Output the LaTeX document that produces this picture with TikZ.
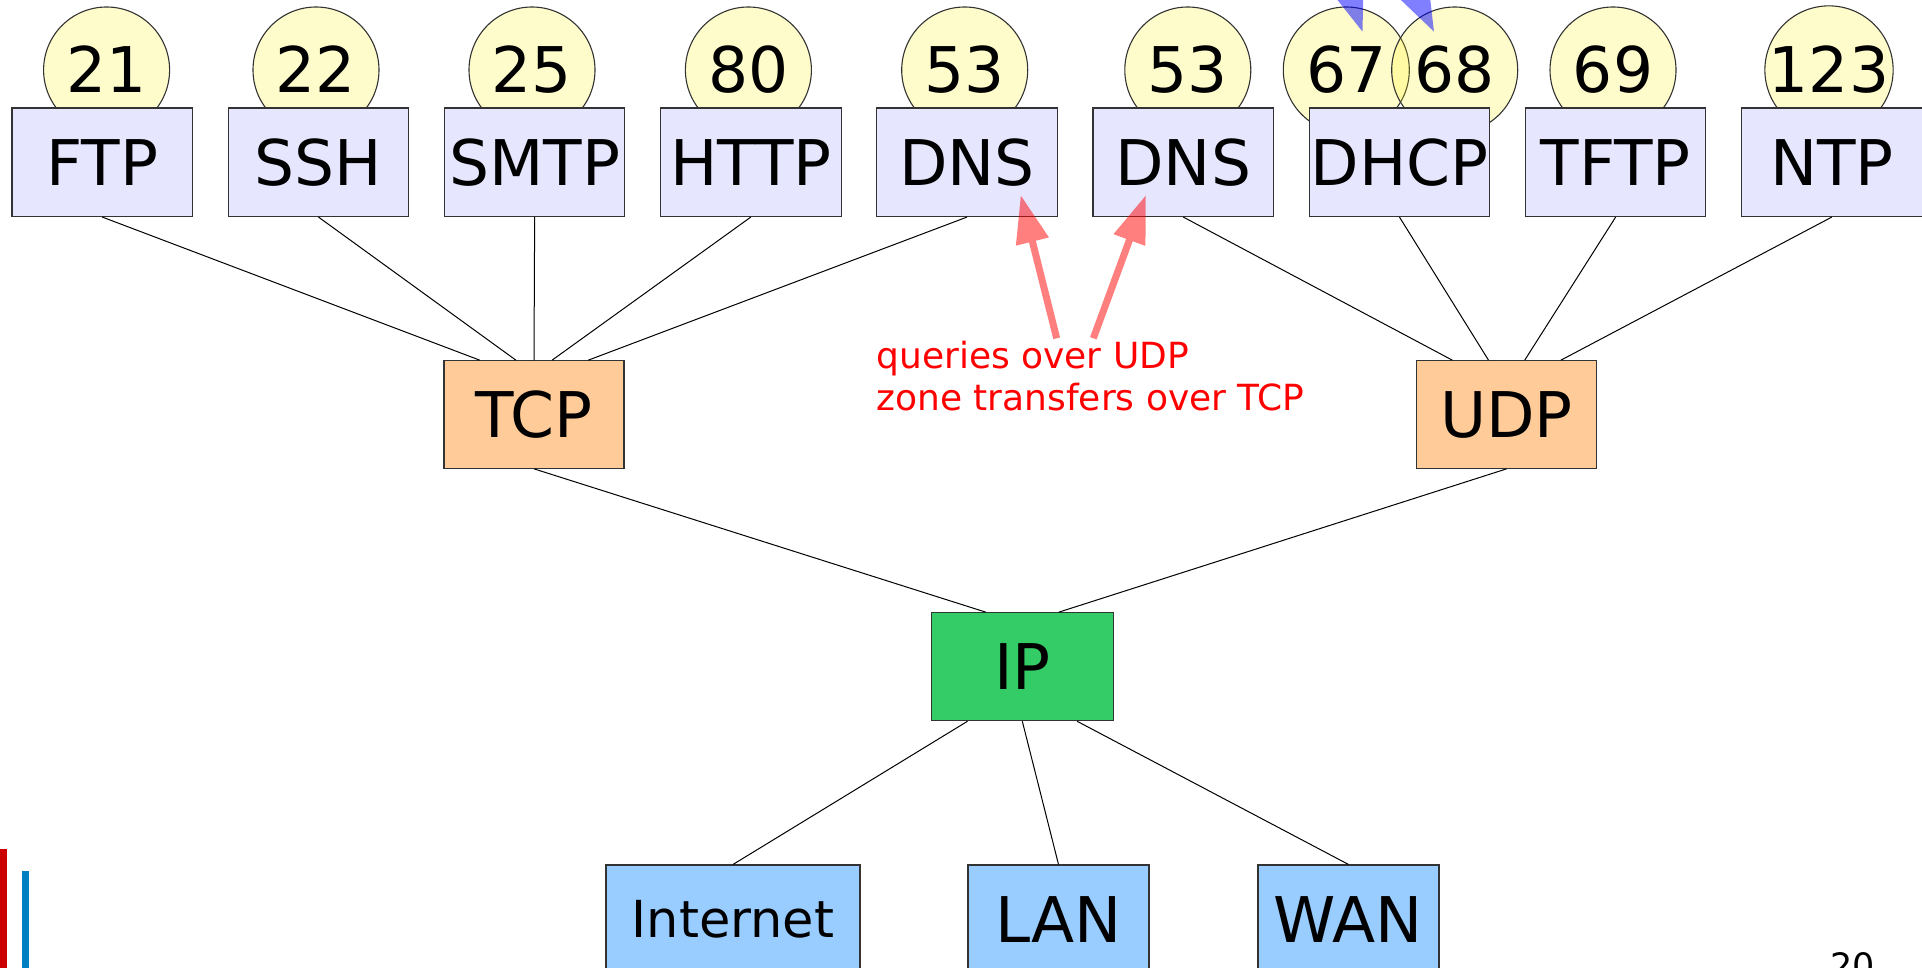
\documentclass[tikz,border=0pt]{standalone}
\usepackage{fontspec}
\setmainfont{DejaVu Sans}
\usetikzlibrary{calc,arrows.meta}
\definecolor{boxlav}{RGB}{230,230,255}
\definecolor{boxorange}{RGB}{255,204,153}
\definecolor{boxgreen}{RGB}{52,204,102}
\definecolor{boxsky}{RGB}{153,204,255}
\definecolor{barred}{RGB}{204,0,0}
\definecolor{barblue}{RGB}{0,128,192}
\begin{document}
\begin{tikzpicture}[x=0.5pt,y=-0.5pt,
  bigtext/.style={font=\fontsize{31.5}{36}\selectfont, text height=23pt, text depth=0pt},
  protobox/.style={rectangle, draw=black!80, line width=0.55pt, inner sep=0pt,
    minimum width=90.25pt, minimum height=54.25pt, bigtext, fill=boxlav},
  transbox/.style={protobox, fill=boxorange, minimum width=90pt, minimum height=53.8pt},
  ipbox/.style={protobox, fill=boxgreen, minimum width=90.75pt, minimum height=54pt},
  netbox/.style={protobox, fill=boxsky, minimum width=90.5pt, minimum height=54pt},
  portcircle/.style={circle, draw=black!80, line width=0.55pt, fill=yellow, fill opacity=0.2,
    text opacity=1, minimum size=63pt, inner sep=0pt, bigtext},
  conn/.style={draw=black, line width=0.5pt},
  fatarrow/.style={line width=3.5pt, -{Triangle[length=24pt,width=16pt]}},
  labeltext/.style={text=red, font=\fontsize{18}{21}\selectfont, inner sep=0pt, anchor=base west}
]
\useasboundingbox (0,0) rectangle (1922,968);
\clip (0,0) rectangle (1922,968);

% port circles
\node[portcircle] (p21) at (106.6,70) {21};
\node[portcircle] (p22) at (316,70) {22};
\node[portcircle] (p25) at (532,70) {25};
\node[portcircle] (p80) at (748.4,70) {80};
\node[portcircle] (p53a) at (964.7,70) {53};
\node[portcircle] (p53b) at (1187.8,70) {53};
\node[portcircle] (p67) at (1346.3,70) {67};
\node[portcircle] (p68) at (1454.7,70) {68};
\node[portcircle] (p69) at (1613,70) {69};
\node[portcircle] (p123) at (1829,70) {123};

% application boxes
\node[protobox] (ftp) at (102.25,162.25) {FTP};
\node[protobox] (ssh) at (318.45,162.25) {SSH};
\node[protobox] (smtp) at (534.65,162.25) {SMTP};
\node[protobox] (http) at (750.85,162.25) {HTTP};
\node[protobox] (dnsa) at (967.05,162.25) {DNS};
\node[protobox] (dnsb) at (1183.25,162.25) {DNS};
\node[protobox] (dhcp) at (1399.45,162.25) {DHCP};
\node[protobox] (tftp) at (1615.65,162.25) {TFTP};
\node[protobox] (ntp) at (1831.85,162.25) {NTP};

% transport
\node[transbox] (tcp) at (534,414.5) {TCP};
\node[transbox] (udp) at (1506.6,414.5) {UDP};

% network
\node[ipbox] (ip) at (1022.3,666.7) {IP};

% link
\node[netbox, minimum width=127pt, font=\fontsize{25.5}{30}\selectfont, text height=18.6pt] (inet) at (733,919) {Internet};
\node[netbox] (lan) at (1058.5,919) {LAN};
\node[netbox] (wan) at (1348.5,919) {WAN};

% connectors
\draw[conn] (ftp.south) -- ($(tcp.north west)!0.2!(tcp.north east)$);
\draw[conn] (ssh.south) -- ($(tcp.north west)!0.4!(tcp.north east)$);
\draw[conn] (smtp.south) -- (tcp.north);
\draw[conn] (http.south) -- ($(tcp.north west)!0.6!(tcp.north east)$);
\draw[conn] (dnsa.south) -- ($(tcp.north west)!0.8!(tcp.north east)$);
\draw[conn] (dnsb.south) -- ($(udp.north west)!0.2!(udp.north east)$);
\draw[conn] (dhcp.south) -- ($(udp.north west)!0.4!(udp.north east)$);
\draw[conn] (tftp.south) -- ($(udp.north west)!0.6!(udp.north east)$);
\draw[conn] (ntp.south) -- ($(udp.north west)!0.8!(udp.north east)$);
\draw[conn] (tcp.south) -- ($(ip.north west)!0.3!(ip.north east)$);
\draw[conn] (udp.south) -- ($(ip.north west)!0.7!(ip.north east)$);
\draw[conn] ($(ip.south west)!0.2!(ip.south east)$) -- (inet.north);
\draw[conn] (ip.south) -- (lan.north);
\draw[conn] ($(ip.south west)!0.8!(ip.south east)$) -- (wan.north);

% label and red arrows
\node[labeltext] (lab1) at (876,368.3) {queries over UDP};
\node[labeltext] (lab2) at (876,410) {zone transfers over TCP};
\coordinate (tailA) at (1056.7,338.3);
\coordinate (tipA) at (1020.7,195);
\coordinate (tailB) at (1093.3,338.3);
\coordinate (tipB) at (1146,195);
\begin{scope}[transparency group, opacity=0.5]
  \draw[fatarrow, draw=red] (tailA) -- (tipA);
\end{scope}
\begin{scope}[transparency group, opacity=0.5]
  \draw[fatarrow, draw=red] (tailB) -- (tipB);
\end{scope}

% blue arrows coming from above the page
\coordinate (tailC) at (1299.1,-157.3);
\coordinate (tipC) at (1362.7,32.3);
\coordinate (tailD) at (1345.3,-146.7);
\coordinate (tipD) at (1434.3,32.3);
\begin{scope}[transparency group, opacity=0.5]
  \draw[fatarrow, draw=blue] (tailC) -- (tipC);
\end{scope}
\begin{scope}[transparency group, opacity=0.5]
  \draw[fatarrow, draw=blue] (tailD) -- (tipD);
\end{scope}

% slide decorations
\fill[barred] (0,849.3) rectangle (6.7,975);
\fill[barblue] (21.7,871) rectangle (29,975);
\node[anchor=base west, inner sep=0pt, font=\fontsize{17.5}{21}\selectfont] (pnum) at (1830,978) {20};
\end{tikzpicture}
\end{document}
